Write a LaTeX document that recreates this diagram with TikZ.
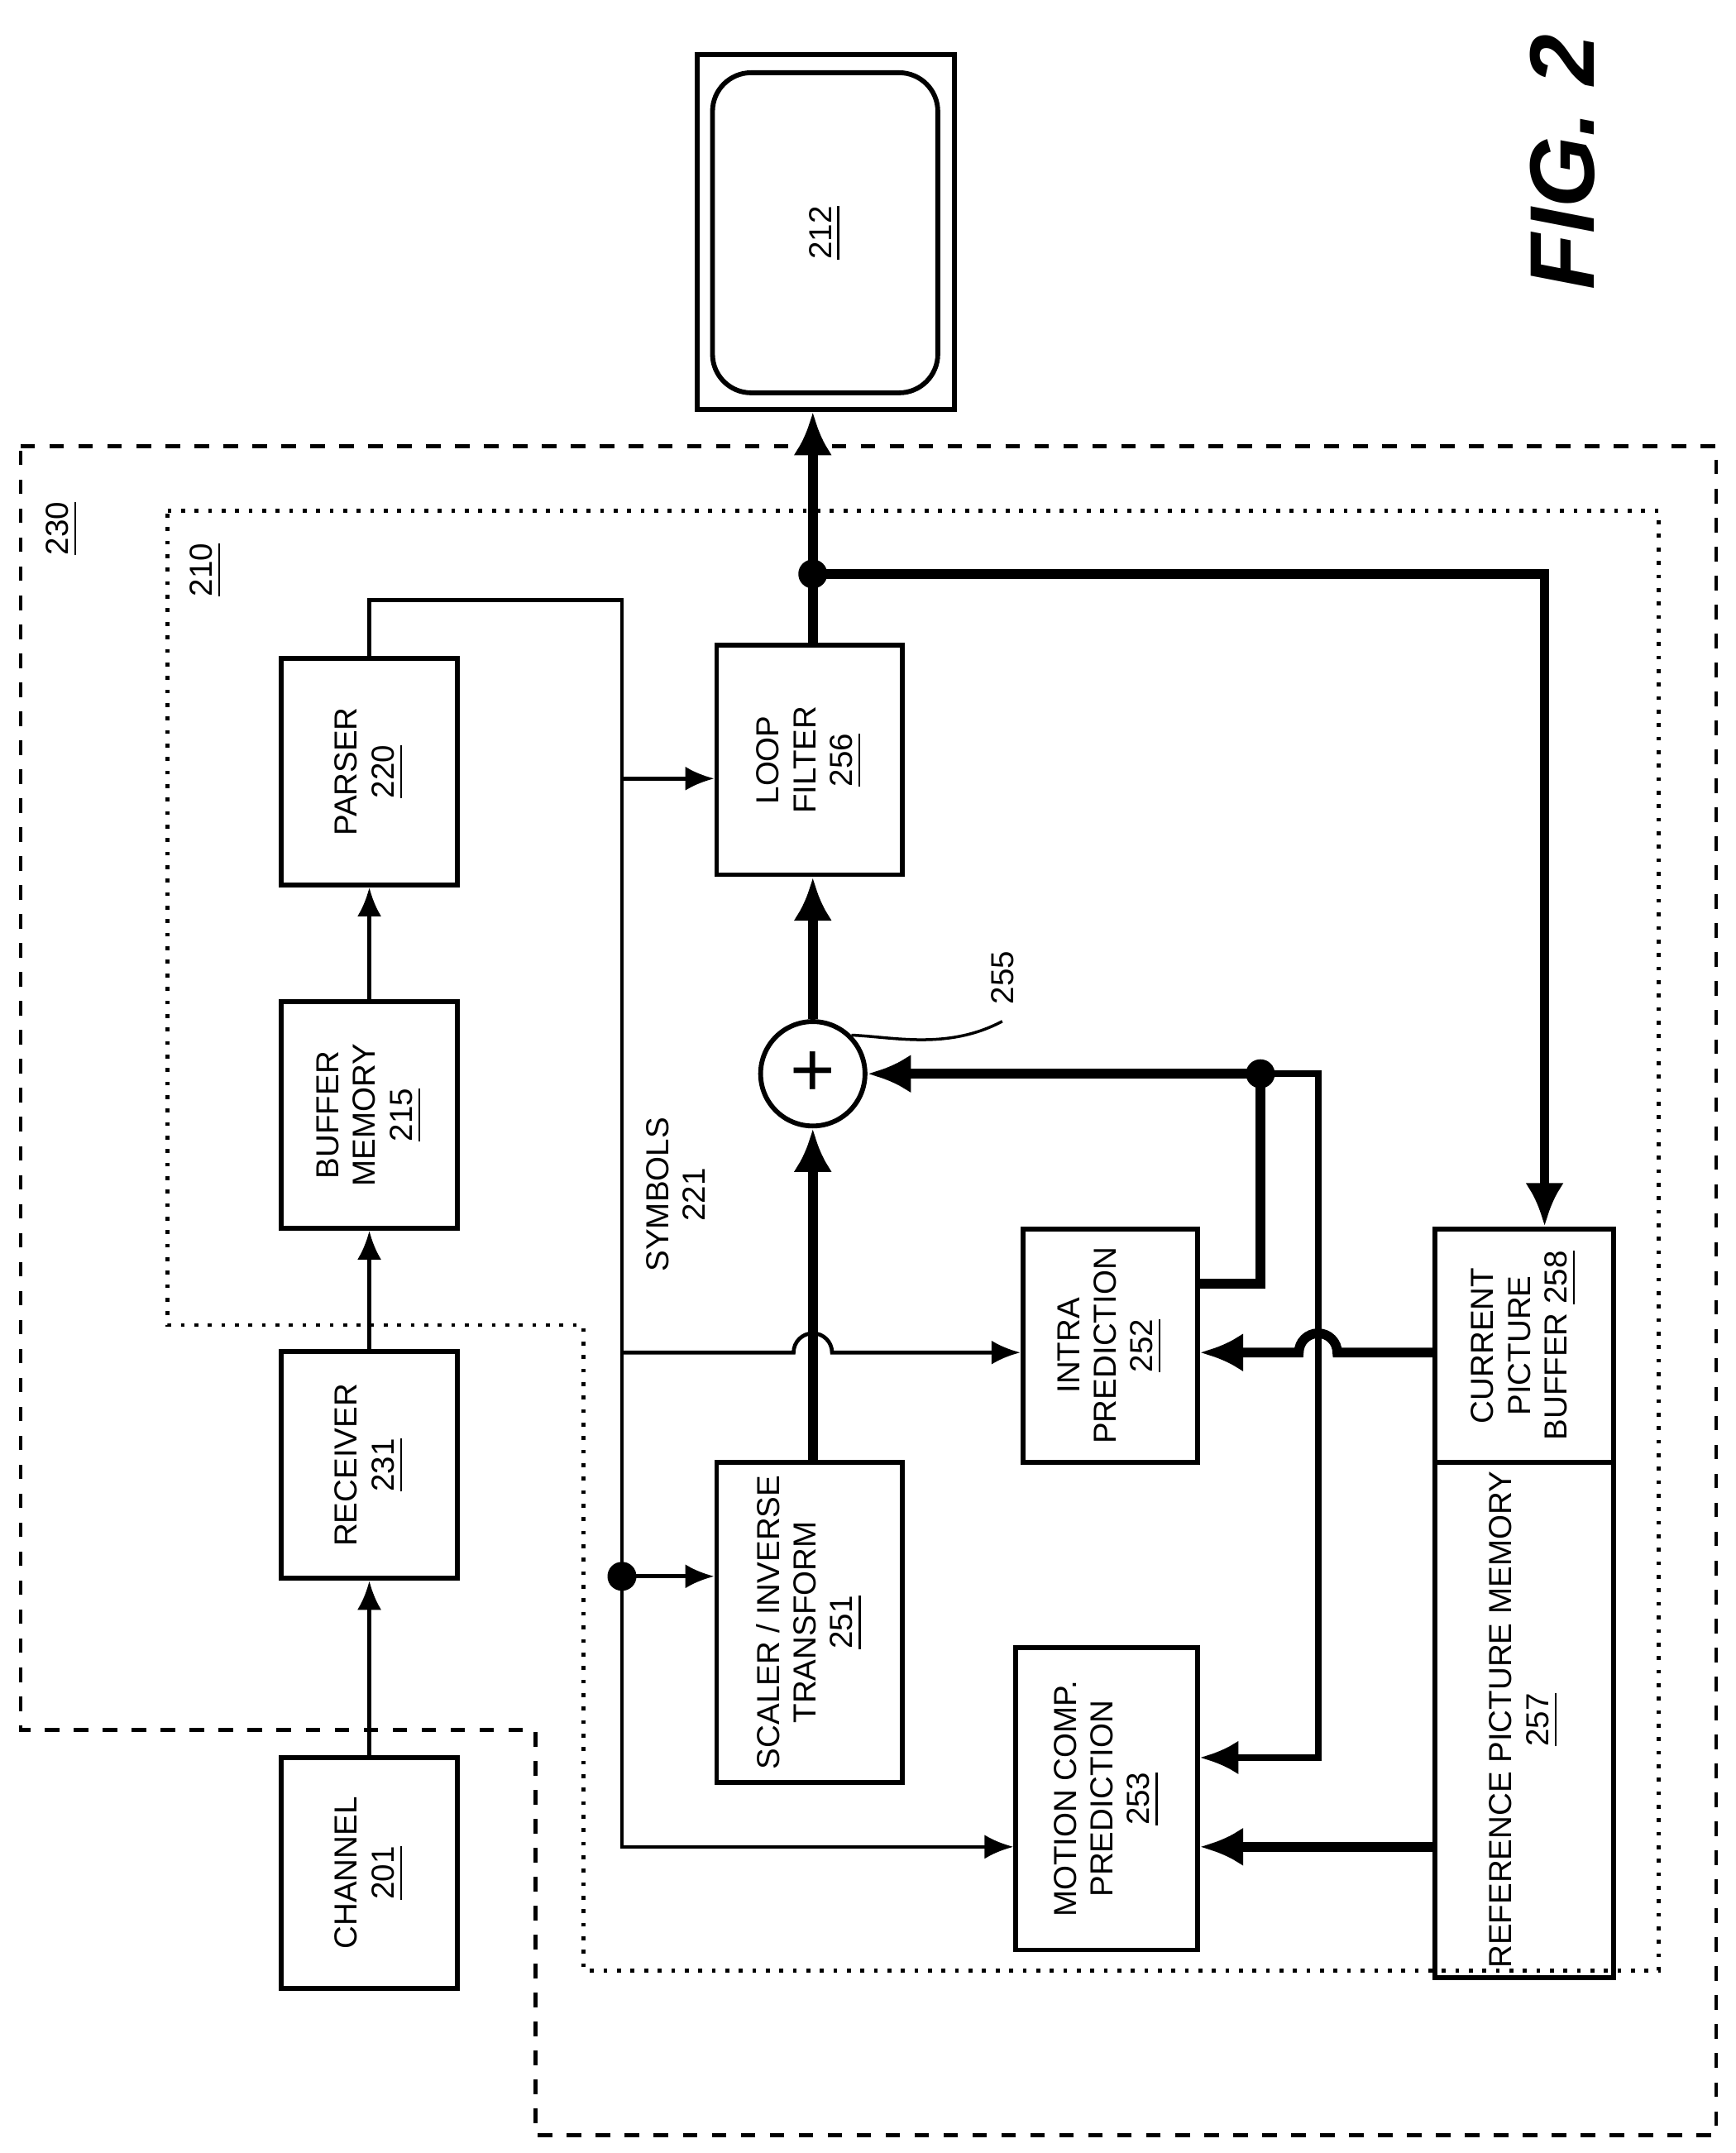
\documentclass[tikz,border=0pt]{standalone}
\usepackage{fontspec}
\setmainfont{Liberation Sans}
\usetikzlibrary{arrows.meta,positioning}
\begin{document}
\begin{tikzpicture}[x=0.01cm,y=-0.01cm,
box/.style={draw, line width=1pt, inner sep=0pt},
lbl/.style={rotate=90, align=center, font=\fontsize{6.6}{7.6}\selectfont},
sig/.style={line width=0.8pt, -{Latex[length=6pt,width=5pt]}},
bus/.style={line width=2pt, -{Latex[length=9pt,width=8pt]}},
dot/.style={circle, fill, inner sep=0pt, minimum size=6pt},
]
\useasboundingbox (0,0) rectangle (1264,1568);
% regions
\draw[dashed, line width=0.8pt] (15,325) -- (1250,325) -- (1250,1555) -- (390,1555) -- (390,1260) -- (15,1260) -- cycle;
\draw[dotted, line width=0.8pt] (122,372) -- (1208,372) -- (1208,1435) -- (425,1435) -- (425,965) -- (122,965) -- cycle;
\node[lbl] (l230) at (45,385) {\underline{230}};
\node[lbl] (l210) at (150,415) {\underline{210}};
% display
\node[box, minimum width=1.87cm, minimum height=2.58cm] (disp) at (601.5,169) {};
\node[draw, line width=1pt, rounded corners=8pt, minimum width=1.64cm, minimum height=2.33cm] (screen) at (601,169.5) {};
\node[lbl] at (screen) {\underline{212}};
\node[rotate=90, font=\bfseries\itshape\fontsize{19}{19}\selectfont] (fig) at (1138,118) {FIG. 2};
% blocks
\node[box, minimum width=1.28cm, minimum height=1.68cm] (chan) at (269,1364) {};
\node[lbl] at (chan) {CHANNEL\\\underline{201}};
\node[box, minimum width=1.28cm, minimum height=1.65cm] (rcv) at (269,1067) {};
\node[lbl] at (rcv) {RECEIVER\\\underline{231}};
\node[box, minimum width=1.28cm, minimum height=1.65cm] (buf) at (269,812) {};
\node[lbl] at (buf) {BUFFER\\MEMORY\\\underline{215}};
\node[box, minimum width=1.28cm, minimum height=1.65cm] (parser) at (269,562) {};
\node[lbl] at (parser) {PARSER\\\underline{220}};
\node[box, minimum width=1.35cm, minimum height=1.67cm] (loop) at (589.5,553.5) {};
\node[lbl] at (loop) {LOOP\\FILTER\\\underline{256}};
\node[box, minimum width=1.35cm, minimum height=2.33cm] (scaler) at (589.5,1181.5) {};
\node[lbl] at (scaler) {SCALER / INVERSE\\TRANSFORM\\\underline{251}};
\node[box, minimum width=1.27cm, minimum height=1.70cm] (intra) at (808.5,980) {};
\node[lbl] at (intra) {INTRA\\PREDICTION\\\underline{252}};
\node[box, minimum width=1.32cm, minimum height=2.20cm] (motion) at (806,1310) {};
\node[lbl] at (motion) {MOTION COMP.\\PREDICTION\\\underline{253}};
\node[box, minimum width=1.30cm, minimum height=1.70cm] (cpb) at (1110,980) {};
\node[lbl] at (cpb) {CURRENT\\PICTURE\\BUFFER \underline{258}};
\node[box, minimum width=1.30cm, minimum height=3.75cm] (rpm) at (1110,1252.5) {};
\node[lbl] at (rpm) {REFERENCE PICTURE MEMORY\\\underline{257}};
\node[circle, draw, line width=1pt, minimum size=0.76cm, inner sep=0pt, font=\fontsize{16}{16}\selectfont] (adder) at (592,782) {+};
\node[lbl] (l255) at (730,712) {255};
\draw[line width=0.6pt] (adder.north east) .. controls (650,755) and (690,765) .. (l255.west);
\node[lbl] (sym) at (492,870) {SYMBOLS\\221};
% chain
\draw[sig] (chan) -- (rcv);
\draw[sig] (rcv) -- (buf);
\draw[sig] (buf) -- (parser);
% symbol bus
\coordinate (ptop) at (453,437);
\coordinate (pbot) at (453,1345);
\coordinate (pjoin) at (453,1148);
\draw[sig] (parser.north) |- (ptop) -- (pbot) -- (motion.west |- pbot);
\draw[sig] (453,567) -- (loop.west |- 0,567);
\draw[sig] (pjoin) -- (scaler.west |- pjoin);
\node[dot] at (pjoin) {};
\draw[sig] (453,985) -- (578,985) arc[start angle=180, end angle=360, radius=14] -- (intra.west |- 0,985);
% reconstruction
\draw[bus] (scaler.north -| adder) -- (adder.south);
\draw[bus] (adder.north) -- (adder |- loop.south);
\coordinate (tap) at (592,418);
\draw[bus] (adder |- loop.north) -- (adder |- disp.south);
\draw[bus] (tap) -| (cpb.north -| 1125,0);
\node[dot] at (tap) {};
\coordinate (ij) at (918,782);
\draw[bus] (intra.east |- 0,935) -| (ij) -- (adder.east);
\node[dot] at (ij) {};
\draw[line width=1.4pt, -{Latex[length=8pt,width=7pt]}] (ij) -- (960,782) -- (960,1280) -- (motion.east |- 0,1280);
\draw[bus] (cpb.west |- 0,985) -- (974,985) arc[start angle=0, end angle=-180, radius=14] -- (intra.east |- 0,985);
\draw[bus] (rpm.west |- 0,1345) -- (motion.east |- 0,1345);
\end{tikzpicture}
\end{document}
